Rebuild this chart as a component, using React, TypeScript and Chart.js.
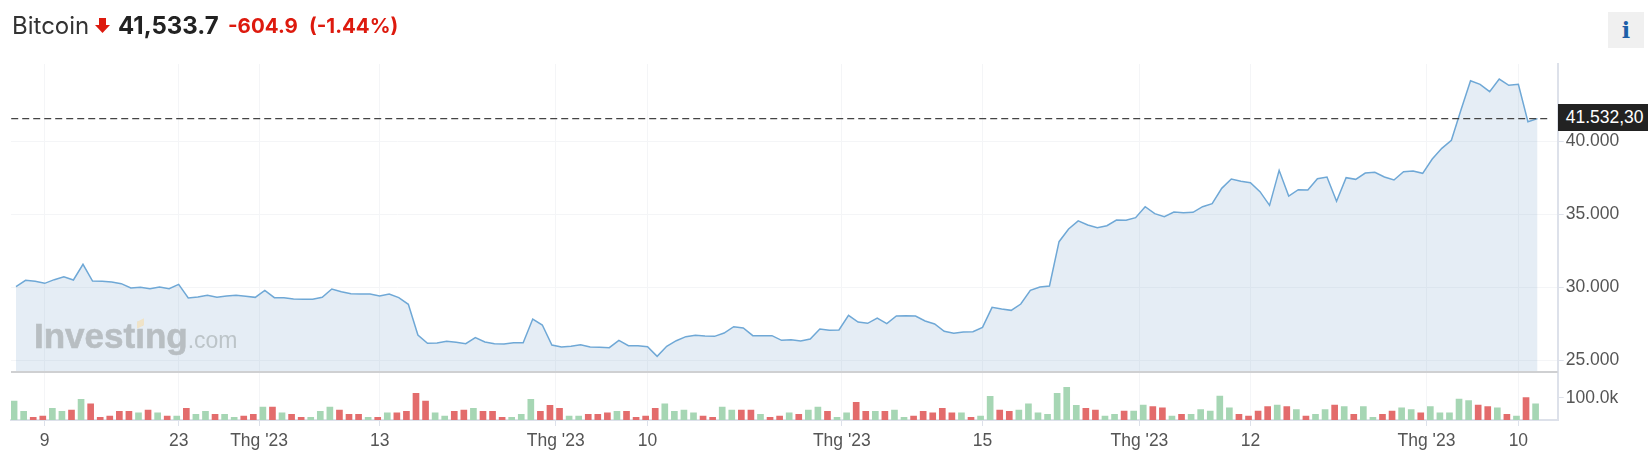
import { useEffect, useRef } from 'react';
import Chart from 'chart.js/auto';

const prices = [
  30036, 30469, 30401, 30264, 30515, 30720, 30492, 31564, 30424, 30401,
  30355, 30241, 29945, 29990, 29899, 30013, 29899, 30196, 29261, 29329,
  29443, 29306, 29398, 29443, 29375, 29306, 29785, 29284, 29284, 29192,
  29170, 29170, 29306, 29876, 29694, 29557, 29534, 29534, 29398, 29534,
  29284, 28828, 26730, 26160, 26183, 26297, 26228, 26137, 26548, 26251,
  26137, 26114, 26206, 26206, 27824, 27414, 26046, 25909, 25955, 26069,
  25909, 25886, 25864, 26365, 26000, 26000, 25932, 25271, 25955, 26342,
  26616, 26707, 26662, 26639, 26867, 27300, 27209, 26684, 26684, 26684,
  26365, 26411, 26320, 26456, 27140, 27049, 27072, 28075, 27619, 27528,
  27893, 27505, 28030, 28052, 28030, 27688, 27482, 26981, 26844, 26935,
  26958, 27254, 28622, 28508, 28417, 28850, 29785, 30013, 30082, 33114,
  33980, 34540, 34254, 34072, 34208, 34596, 34573, 34756, 35508, 35029,
  34824, 35143, 35098, 35120, 35508, 35713, 36762, 37400, 37241, 37150,
  36534, 35599, 37993, 36238, 36671, 36648, 37423, 37537, 35873, 37492,
  37378, 37811, 37856, 37537, 37332, 37902, 37948, 37788, 38768, 39498,
  40045, 42120, 44126, 43876, 43374, 44240, 43807, 43876, 41322, 41532,
];

// volume in thousands
const volumes = [
  86, 39, 12, 18, 53, 39, 45, 94, 74, 12,
  18, 39, 39, 32, 45, 32, 18, 18, 53, 26,
  39, 26, 26, 12, 18, 26, 59, 59, 32, 26,
  12, 12, 39, 59, 45, 26, 26, 12, 12, 32,
  32, 39, 121, 86, 32, 18, 39, 45, 53, 39,
  39, 12, 12, 26, 94, 39, 67, 53, 18, 18,
  26, 26, 32, 39, 39, 12, 18, 53, 73, 39,
  45, 32, 18, 12, 59, 45, 45, 45, 26, 12,
  18, 32, 26, 45, 59, 39, 12, 32, 80, 39,
  39, 39, 45, 12, 18, 39, 32, 53, 32, 32,
  12, 18, 108, 45, 39, 45, 73, 32, 26, 121,
  148, 67, 53, 45, 18, 26, 41, 41, 68, 61,
  55, 18, 26, 26, 47, 41, 109, 55, 26, 18,
  41, 61, 68, 61, 47, 18, 26, 47, 68, 61,
  26, 61, 12, 26, 41, 55, 47, 33, 61, 33,
  33, 95, 88, 68, 61, 55, 26, 18, 102, 74,
];

// g = up day, r = down day
const volumeDirs = (
  'ggrrg grgrr rrrgr grgrg grggr rgrgr rgggr rrgrg rrrrg grrgr rrggg r' +
  'rrgg rrrgr rrrgg ggrrg grrgr rgrgg rggrr grggr rrrrg rggrr ggggg ggrr' +
  'ggrgg rrgrg ggggr rrrgr grggr grggr rggrg ggggr rgrgr g'
).replace(/ /g, '').split('');

const xTickValues = [3, 17, 25.4, 38, 56.4, 66, 86.3, 101, 117.4, 129, 147.4, 157];
const xTickLabels = ['9', '23', "Thg '23", '13', "Thg '23", '10', "Thg '23", '15', "Thg '23", '12', "Thg '23", '10'];
const priceTicks = [25000, 30000, 35000, 40000];
const priceTickLabels = ['25.000', '30.000', '35.000', '40.000'];
const volumeTicks = [100];
const volumeTickLabels = ['100.0k'];
const lastPrice = 41532.3;

const AXIS_COLOR = '#dde1ea';
const GRID_COLOR = '#f4f5f7';
const tickFont = { family: '"Liberation Sans", Arial, sans-serif', size: 17.5 };

const dividerPlugin = {
  id: 'divider',
  afterDatasetsDraw(chart: any) {
    const { ctx, chartArea, scales } = chart;
    ctx.save();
    ctx.strokeStyle = '#cfd0d2';
    ctx.lineWidth = 2;
    ctx.beginPath();
    ctx.moveTo(chartArea.left, scales.y1.top);
    ctx.lineTo(chartArea.right, scales.y1.top);
    ctx.stroke();
    ctx.restore();
  },
};

export default function App() {
  const canvasRef = useRef<HTMLCanvasElement>(null);

  useEffect(() => {
    if (!canvasRef.current) return;

    const chart = new Chart(canvasRef.current, {
      data: {
        datasets: [
          {
            type: 'line',
            data: [
              { x: -0.5, y: lastPrice },
              { x: 160.3, y: lastPrice },
            ],
            xAxisID: 'x',
            yAxisID: 'y',
            borderColor: '#444',
            borderWidth: 1.4,
            borderDash: [7, 4],
            pointRadius: 0,
            fill: false,
          },
          {
            type: 'line',
            data: prices.map((y, x) => ({ x, y })),
            xAxisID: 'x',
            yAxisID: 'y',
            borderColor: '#6fa8d6',
            borderWidth: 1.5,
            backgroundColor: 'rgba(124, 167, 207, 0.2)',
            pointRadius: 0,
            tension: 0,
            fill: 'start',
          },
          {
            type: 'bar',
            // bars sit a little left of the price points in the original
            data: volumes.map((y, x) => ({ x: x - 0.2, y })),
            xAxisID: 'x',
            yAxisID: 'y1',
            backgroundColor: volumeDirs.map((d) => (d === 'g' ? '#a6d6b4' : '#e36c6c')),
            barThickness: 6,
          },
        ],
      } as any,
      options: {
        animation: false,
        responsive: false,
        layout: { padding: { left: 11, top: 64, right: 0, bottom: 0 } },
        plugins: { legend: { display: false }, tooltip: { enabled: false } },
        scales: {
          x: {
            type: 'linear',
            offset: false,
            min: -0.5225,
            max: 161.11,
            afterBuildTicks: (axis: any) => {
              axis.ticks = xTickValues.map((value) => ({ value }));
            },
            afterFit: (axis: any) => {
              axis.height = 52;
            },
            grid: { offset: false, color: GRID_COLOR, tickColor: AXIS_COLOR, tickLength: 6 },
            border: { color: AXIS_COLOR, width: 2 },
            ticks: {
              autoSkip: false,
              maxRotation: 0,
              padding: 5,
              color: '#555',
              font: tickFont,
              callback: (_v: any, i: number) => xTickLabels[i],
            },
          },
          y: {
            position: 'right',
            stack: 'panes',
            stackWeight: 308,
            weight: 0,
            min: 24200,
            max: 45267,
            afterBuildTicks: (axis: any) => {
              axis.ticks = priceTicks.map((value) => ({ value }));
            },
            afterFit: (axis: any) => {
              axis.width = 90.3;
            },
            grid: { color: GRID_COLOR, tickColor: AXIS_COLOR, tickLength: 6 },
            border: { color: AXIS_COLOR, width: 2 },
            ticks: {
              padding: 2,
              color: '#555',
              font: tickFont,
              callback: (_v: any, i: number) => priceTickLabels[i],
            },
          },
          y1: {
            position: 'right',
            stack: 'panes',
            stackWeight: 48,
            weight: 1,
            min: 0,
            max: 218,
            afterBuildTicks: (axis: any) => {
              axis.ticks = volumeTicks.map((value) => ({ value }));
            },
            afterFit: (axis: any) => {
              axis.width = 90.3;
            },
            grid: { drawOnChartArea: false, tickColor: AXIS_COLOR, tickLength: 6 },
            border: { color: AXIS_COLOR, width: 2 },
            ticks: {
              padding: 2,
              color: '#555',
              font: tickFont,
              callback: (_v: any, i: number) => volumeTickLabels[i],
            },
          },
        },
      },
      plugins: [dividerPlugin],
    } as any);

    return () => chart.destroy();
  }, []);

  const inter = 'Inter, "Noto Sans", sans-serif';

  return (
    <div style={{ position: 'fixed', left: 0, top: 0, width: 1648, height: 472, background: '#fff', overflow: 'hidden' }}>
      <canvas ref={canvasRef} width={1648} height={472} style={{ position: 'absolute', left: 0, top: 0 }} />

      <span style={{ position: 'absolute', left: 12, top: 12, fontFamily: inter, fontSize: 24, lineHeight: '28px', color: '#333' }}>
        Bitcoin
      </span>
      <svg width={15} height={15} style={{ position: 'absolute', left: 95, top: 18 }}>
        <polygon points="4,0 11,0 11,7 15,7 7.5,15 0,7 4,7" fill="#dd1a0e" />
      </svg>
      <span style={{ position: 'absolute', left: 118, top: 12, fontFamily: inter, fontSize: 24, fontWeight: 700, lineHeight: '28px', color: '#222' }}>
        41,533.7
      </span>
      <span style={{ position: 'absolute', left: 228, top: 12, fontFamily: inter, fontSize: 20.5, fontWeight: 700, lineHeight: '28px', color: '#dd1a0e' }}>
        -604.9
      </span>
      <span style={{ position: 'absolute', left: 309, top: 12, fontFamily: inter, fontSize: 20.5, fontWeight: 700, lineHeight: '28px', color: '#dd1a0e' }}>
        (-1.44%)
      </span>

      <div style={{ position: 'absolute', left: 1608, top: 12, width: 36, height: 36, background: '#f0f0f0', textAlign: 'center', fontFamily: '"DejaVu Serif", serif', fontWeight: 700, fontSize: 22, lineHeight: '36px', color: '#1d5fa8' }}>
        i
      </div>

      <div style={{ position: 'absolute', left: 1557.7, top: 104, width: 91, height: 27, background: '#222', color: '#fff', fontFamily: '"Liberation Sans", Arial, sans-serif', fontSize: 17.5, lineHeight: '27px', paddingLeft: 8, boxSizing: 'border-box' }}>
        41.532,30
      </div>

      <div style={{ position: 'absolute', left: 34, top: 313, whiteSpace: 'nowrap', fontFamily: '"Liberation Sans", Arial, sans-serif', lineHeight: '46px' }}>
        <span style={{ fontSize: 35, fontWeight: 700, color: '#b8bec2', WebkitTextStroke: '0.6px #b8bec2' }}>Investing</span>
        <span style={{ fontSize: 23, fontWeight: 400, color: '#bcc4c8' }}>.com</span>
      </div>
      <div style={{ position: 'absolute', left: 137, top: 320, width: 7, height: 7, background: '#efe3c8', transform: 'skewY(-25deg)' }} />
    </div>
  );
}
